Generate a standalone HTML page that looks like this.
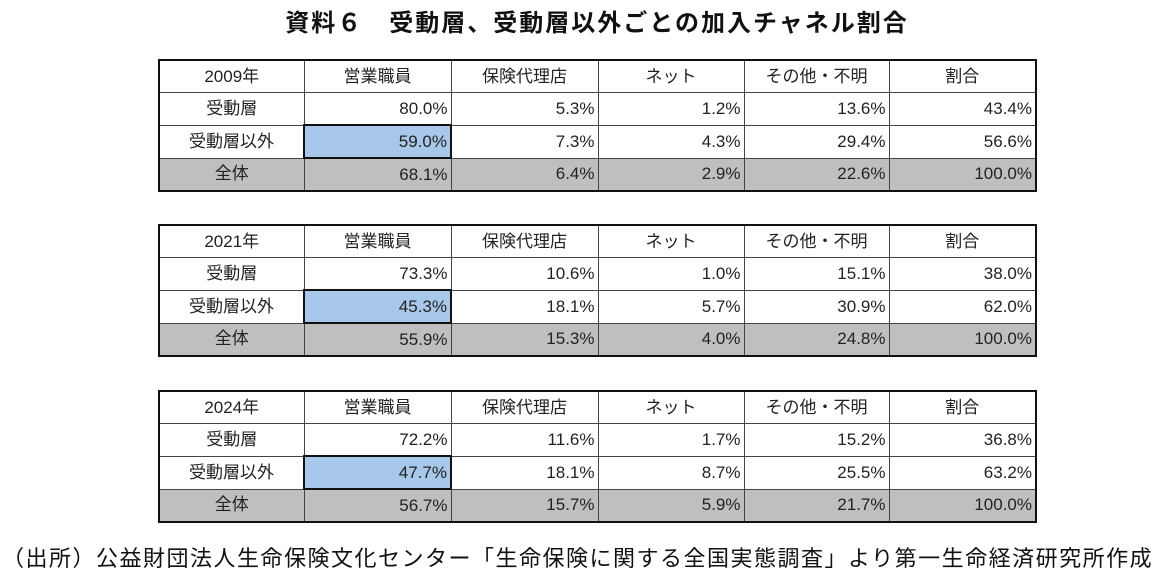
<!DOCTYPE html>
<html><head><meta charset="utf-8"><style>
body{margin:0;width:1164px;height:587px;background:#fff;font-family:"Liberation Sans","Noto Sans CJK JP",sans-serif;color:#222;position:relative;overflow:hidden}
.t{position:absolute;left:15px;width:1164px;text-align:center;top:3px;font-size:24px;letter-spacing:2px;font-weight:bold;color:#111}
table{position:absolute;left:158px;width:877px;border-collapse:collapse;border:2px solid #111;table-layout:fixed;font-size:17px}
td{border:1px solid #444;height:31px;padding:0 3px;text-align:right;white-space:nowrap;line-height:20px}
td:first-child,tr.h td{text-align:center}
tr.g td{background:#bfbfbf}
td.b{background:#a7c8ea;border:2px solid #111}
.f{position:absolute;left:2px;top:541px;font-size:22px;letter-spacing:1.5px;color:#111;white-space:nowrap}
</style></head><body>
<div class="t">資料６　受動層、受動層以外ごとの加入チャネル割合</div>
<table style="top:59px"><colgroup><col style="width:145px"><col style="width:147px"><col style="width:147px"><col style="width:146px"><col style="width:145px"><col style="width:147px"></colgroup>
<tr class="h"><td>2009年</td><td>営業職員</td><td>保険代理店</td><td>ネット</td><td>その他・不明</td><td>割合</td></tr>
<tr><td>受動層</td><td>80.0%</td><td>5.3%</td><td>1.2%</td><td>13.6%</td><td>43.4%</td></tr>
<tr><td>受動層以外</td><td class="b">59.0%</td><td>7.3%</td><td>4.3%</td><td>29.4%</td><td>56.6%</td></tr>
<tr class="g"><td>全体</td><td>68.1%</td><td>6.4%</td><td>2.9%</td><td>22.6%</td><td>100.0%</td></tr></table>
<table style="top:224px"><colgroup><col style="width:145px"><col style="width:147px"><col style="width:147px"><col style="width:146px"><col style="width:145px"><col style="width:147px"></colgroup>
<tr class="h"><td>2021年</td><td>営業職員</td><td>保険代理店</td><td>ネット</td><td>その他・不明</td><td>割合</td></tr>
<tr><td>受動層</td><td>73.3%</td><td>10.6%</td><td>1.0%</td><td>15.1%</td><td>38.0%</td></tr>
<tr><td>受動層以外</td><td class="b">45.3%</td><td>18.1%</td><td>5.7%</td><td>30.9%</td><td>62.0%</td></tr>
<tr class="g"><td>全体</td><td>55.9%</td><td>15.3%</td><td>4.0%</td><td>24.8%</td><td>100.0%</td></tr></table>
<table style="top:390px"><colgroup><col style="width:145px"><col style="width:147px"><col style="width:147px"><col style="width:146px"><col style="width:145px"><col style="width:147px"></colgroup>
<tr class="h"><td>2024年</td><td>営業職員</td><td>保険代理店</td><td>ネット</td><td>その他・不明</td><td>割合</td></tr>
<tr><td>受動層</td><td>72.2%</td><td>11.6%</td><td>1.7%</td><td>15.2%</td><td>36.8%</td></tr>
<tr><td>受動層以外</td><td class="b">47.7%</td><td>18.1%</td><td>8.7%</td><td>25.5%</td><td>63.2%</td></tr>
<tr class="g"><td>全体</td><td>56.7%</td><td>15.7%</td><td>5.9%</td><td>21.7%</td><td>100.0%</td></tr></table>
<div class="f">（出所）公益財団法人生命保険文化センター「生命保険に関する全国実態調査」より第一生命経済研究所作成</div>
</body></html>
